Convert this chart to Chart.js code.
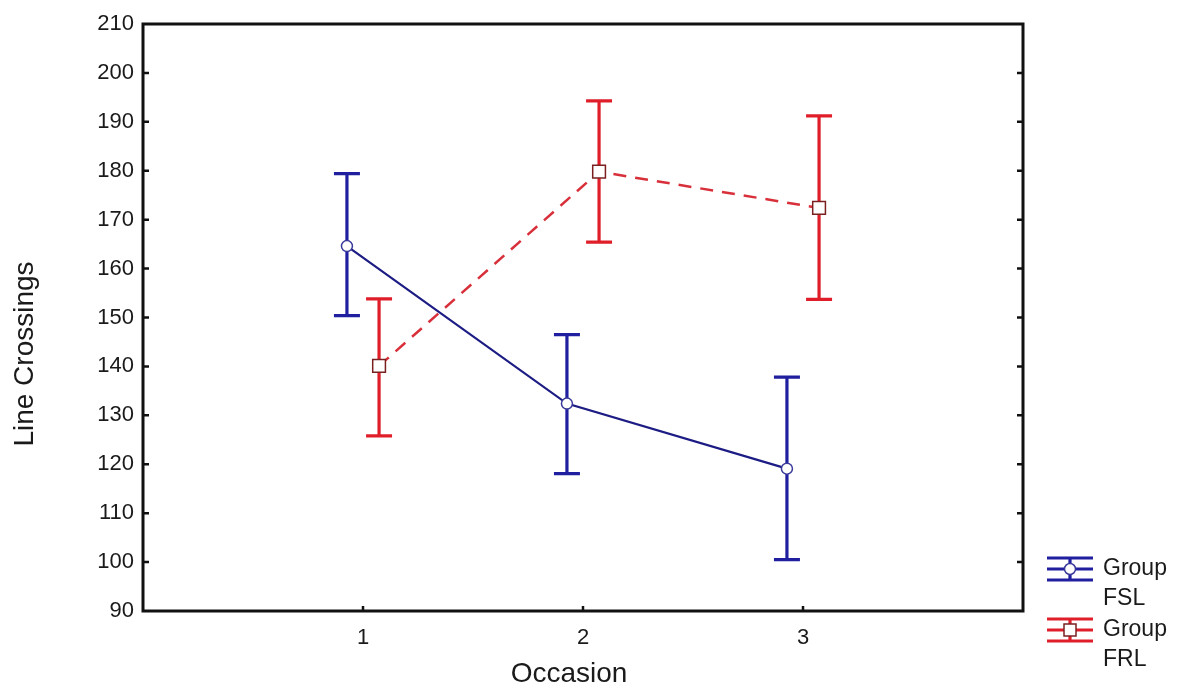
<!DOCTYPE html>
<html>
<head>
<meta charset="utf-8">
<script src="https://cdn.jsdelivr.net/npm/chart.js@4.4.1/dist/chart.umd.min.js"></script>
<style>
html,body{margin:0;padding:0;background:#fff;}
#wrap{width:1182px;height:687px;position:relative;}
</style>
</head>
<body>
<div id="wrap"><canvas id="c" width="1182" height="687"></canvas></div>
<script>
// ---- data ----
const occasions = [1, 2, 3];
const yTickValues = [90, 100, 110, 120, 130, 140, 150, 160, 170, 180, 190, 200, 210];
const seriesNames = ['Group FSL', 'Group FRL'];
const fslMean  = [164.6, 132.4, 119.1];
const fslUpper = [179.4, 146.5, 137.8];
const fslLower = [150.4, 118.1, 100.5];
const frlMean  = [140.1, 179.8, 172.4];
const frlUpper = [153.8, 194.3, 191.2];
const frlLower = [125.8, 165.4, 153.7];
const xTitle = 'Occasion';
const yTitle = 'Line Crossings';

// ---- styles ----
const FONT = '"Liberation Sans", Arial, sans-serif';
const TEXT = '#1a1a1a';
const BLUE = '#1f1fa0';
const BLUE_LINE = '#1c1c84';
const RED = '#e01e2a';
const RED_LINE = '#d8303a';
const OFFSET = 0.073;

const errorBarPlugin = {
  id: 'errorBars',
  beforeDatasetsDraw(chart) {
    const ctx = chart.ctx;
    const ys = chart.scales.y;
    chart.data.datasets.forEach((ds, i) => {
      const meta = chart.getDatasetMeta(i);
      meta.data.forEach((pt, j) => {
        const x = pt.x;
        const yu = ys.getPixelForValue(ds.errUpper[j]);
        const yl = ys.getPixelForValue(ds.errLower[j]);
        ctx.save();
        ctx.strokeStyle = ds.barColor;
        ctx.lineWidth = 3.2;
        ctx.beginPath();
        ctx.moveTo(x, yu); ctx.lineTo(x, yl);
        ctx.moveTo(x - 13, yu); ctx.lineTo(x + 13, yu);
        ctx.moveTo(x - 13, yl); ctx.lineTo(x + 13, yl);
        ctx.stroke();
        ctx.restore();
      });
    });
  }
};

const framePlugin = {
  id: 'frame',
  afterDraw(chart) {
    const ctx = chart.ctx;
    const a = chart.chartArea;
    const ys = chart.scales.y, xs = chart.scales.x;
    ctx.save();
    ctx.strokeStyle = '#111';
    ctx.lineWidth = 3;
    ctx.strokeRect(a.left, a.top, a.right - a.left, a.bottom - a.top);
    ctx.lineWidth = 2.5;
    ctx.beginPath();
    ys.ticks.forEach(t => {
      if (t.value <= ys.min || t.value >= ys.max) return;
      const y = ys.getPixelForValue(t.value);
      ctx.moveTo(a.left, y); ctx.lineTo(a.left + 6, y);
      ctx.moveTo(a.right, y); ctx.lineTo(a.right - 6, y);
    });
    xs.ticks.forEach(t => {
      const x = xs.getPixelForValue(t.value);
      ctx.moveTo(x, a.bottom); ctx.lineTo(x, a.bottom - 5);
    });
    ctx.stroke();

    // axis titles
    ctx.fillStyle = TEXT;
    ctx.font = '28px ' + FONT;
    ctx.textAlign = 'center';
    ctx.textBaseline = 'middle';
    ctx.fillText(xTitle, 569, 674);
    ctx.save();
    ctx.translate(25, 354);
    ctx.rotate(-Math.PI / 2);
    ctx.fillText(yTitle, 0, 0);
    ctx.restore();

    // legend
    const items = chart.data.datasets;
    const centers = [569, 630];
    items.forEach((ds, i) => {
      const cy = centers[i];
      const x0 = 1047, x1 = 1093, cx = 1070;
      ctx.strokeStyle = ds.barColor;
      ctx.lineWidth = 3.2;
      ctx.beginPath();
      ctx.moveTo(x0, cy - 11); ctx.lineTo(x1, cy - 11);
      ctx.moveTo(x0, cy); ctx.lineTo(x1, cy);
      ctx.moveTo(x0, cy + 11); ctx.lineTo(x1, cy + 11);
      ctx.moveTo(cx, cy - 11); ctx.lineTo(cx, cy + 11);
      ctx.stroke();
      ctx.fillStyle = '#fff';
      ctx.lineWidth = 1.5;
      ctx.strokeStyle = ds.pointBorderColor;
      ctx.beginPath();
      if (ds.pointStyle === 'rect') {
        ctx.rect(cx - 6, cy - 6, 12, 12);
      } else {
        ctx.arc(cx, cy, 5.5, 0, Math.PI * 2);
      }
      ctx.fill(); ctx.stroke();
      ctx.fillStyle = TEXT;
      ctx.font = '23px ' + FONT;
      ctx.textAlign = 'left';
      ctx.textBaseline = 'middle';
      const parts = ds.label.split(' ');
      parts.forEach((p, k) => ctx.fillText(p, 1103, cy + k * 30));
    });
    ctx.restore();
  }
};

const datasets = [
  {
    label: seriesNames[0],
    data: occasions.map((o, i) => ({ x: o - OFFSET, y: fslMean[i] })),
    borderColor: BLUE_LINE,
    borderWidth: 2.2,
    pointStyle: 'circle',
    pointRadius: 5.5,
    pointBackgroundColor: '#fff',
    pointBorderColor: '#3a3a9a',
    pointBorderWidth: 1.5,
    errUpper: fslUpper,
    errLower: fslLower,
    barColor: BLUE
  },
  {
    label: seriesNames[1],
    data: occasions.map((o, i) => ({ x: o + OFFSET, y: frlMean[i] })),
    borderColor: RED_LINE,
    borderWidth: 2.5,
    borderDash: [13, 9],
    pointStyle: 'rect',
    pointRadius: 9,
    pointBackgroundColor: '#fff',
    pointBorderColor: '#7a2020',
    pointBorderWidth: 1.5,
    errUpper: frlUpper,
    errLower: frlLower,
    barColor: RED
  }
];

new Chart(document.getElementById('c'), {
  type: 'line',
  data: { datasets },
  options: {
    responsive: false,
    devicePixelRatio: 1,
    animation: false,
    layout: { padding: { top: 24, right: 159, left: 0, bottom: 0 } },
    plugins: { legend: { display: false }, tooltip: { enabled: false } },
    scales: {
      x: {
        type: 'linear',
        min: 0,
        max: 4,
        afterBuildTicks: s => { s.ticks = occasions.map(v => ({ value: v })); },
        afterFit: s => { s.height = 76; },
        grid: { display: false, drawTicks: false },
        border: { display: false },
        ticks: { color: TEXT, font: { family: FONT, size: 22 }, padding: 14, callback: v => String(v) }
      },
      y: {
        min: 90,
        max: 210,
        afterBuildTicks: s => { s.ticks = yTickValues.map(v => ({ value: v })); },
        afterFit: s => { s.width = 143; },
        grid: { display: false, drawTicks: false },
        border: { display: false },
        ticks: { color: TEXT, font: { family: FONT, size: 22 }, padding: 9, callback: v => String(v) }
      }
    }
  },
  plugins: [errorBarPlugin, framePlugin]
});
</script>
</body>
</html>
